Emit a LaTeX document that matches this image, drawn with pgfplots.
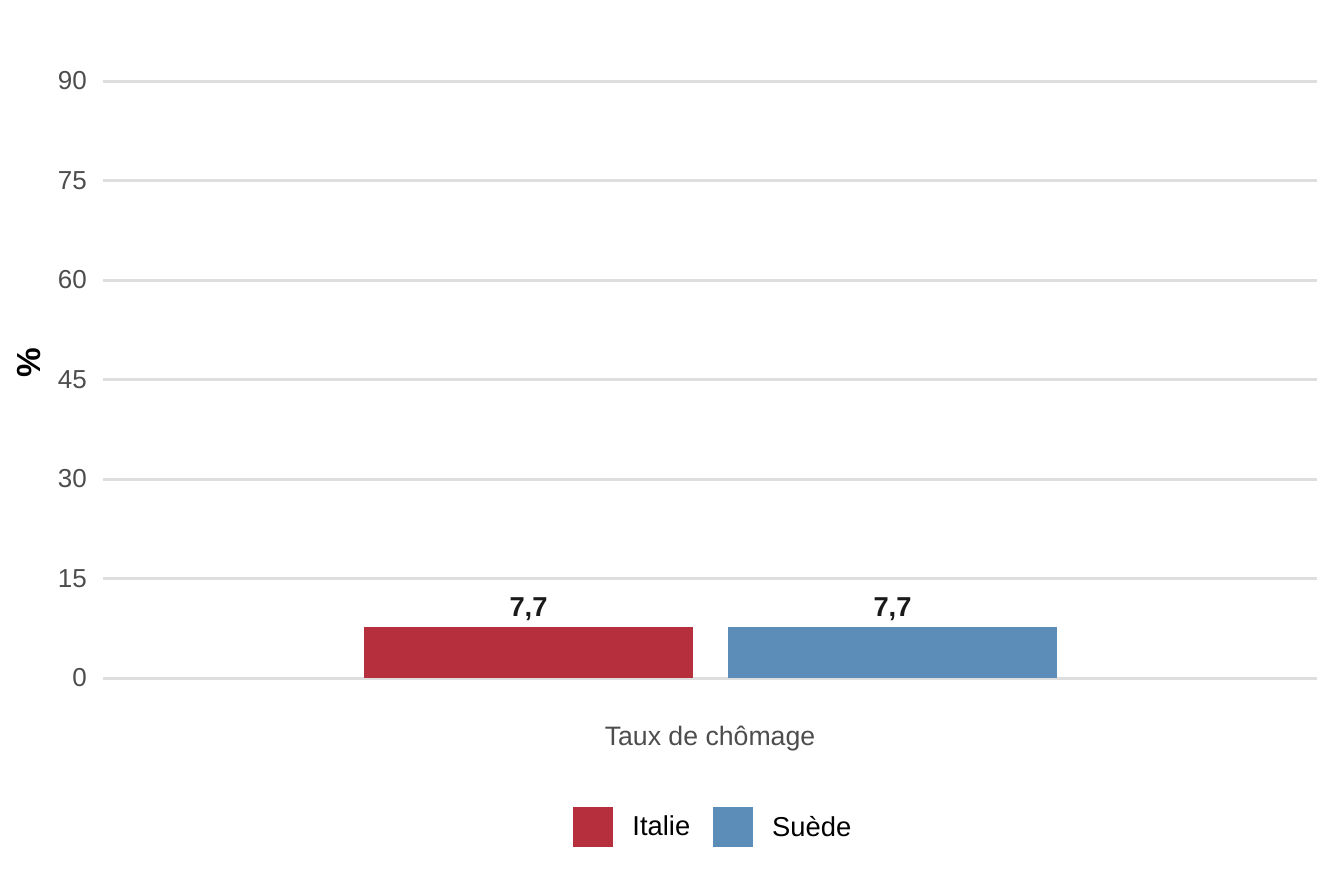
\documentclass[border=0pt]{standalone}
\usepackage{pgfplots}
\pgfplotsset{compat=1.18}
\usepackage{fontspec}
\setmainfont{Liberation Sans}
\definecolor{itred}{HTML}{B5303C}
\definecolor{seblue}{HTML}{5B8DB8}
\definecolor{gridc}{HTML}{DEDEDE}
\definecolor{tickc}{HTML}{4D4D4D}
\definecolor{lblc}{HTML}{1A1A1A}
\pgfplotsset{
  sqlegend/.style={legend image code/.code={%
    \fill[##1,draw=none] (0pt,-15pt) rectangle (30pt,15pt);
    \path (-16.9pt,0pt) (44.6pt,0pt);}},
  barlbl/.style={
    nodes near coords={\pgfmathprintnumber[fixed,fixed zerofill,precision=1,use comma,assume math mode=true]{\pgfplotspointmeta}},
    every node near coord/.append style={font=\bfseries\fontsize{20.5pt}{24pt}\selectfont, text=lblc, anchor=base, inner sep=0pt, yshift=7.5pt}}
}
\begin{document}
\begin{tikzpicture}
\path[use as bounding box] (-77.25pt,-153.75pt) rectangle (930.75pt,508.5pt);
\begin{axis}[
  at={(0pt,0pt)}, anchor=south west,
  scale only axis, width=910.5pt, height=470.1pt,
  xmin=103, xmax=1317, ymin=0, ymax=94.5,
  clip=false,
  axis line style={draw=none}, major tick length=0pt,
  ytick={0,15,30,45,60,75,90},
  ymajorgrids, grid style={gridc, line width=2.25pt},
  xtick={710}, xticklabels={Taux de chômage},
  yticklabel style={font=\fontsize{19.5pt}{23pt}\selectfont, text=tickc, anchor=east, inner sep=0pt, xshift=-12pt},
  xticklabel style={font=\fontsize{20pt}{24pt}\selectfont, text=tickc, anchor=base, inner sep=0pt, yshift=-50.25pt},
  /pgf/number format/assume math mode=true,
  ylabel={\%},
  ylabel style={font=\bfseries\fontsize{25pt}{30pt}\selectfont, at={(axis description cs:0,0.5)}, anchor=center, yshift=55.5pt, xshift=1.5pt},
  legend columns=2,
  legend style={at={(0.3686,-0.2377)}, anchor=west, draw=none, fill=none, inner sep=0pt, outer sep=0pt,
    row sep=0pt, column sep=0pt, font=\fontsize{20.5pt}{24pt}\selectfont, text=black,
    nodes={inner sep=0pt, anchor=west}},
]
\addplot[ybar, fill=itred, draw=none, bar width=329, bar shift=0pt, sqlegend, barlbl] coordinates {(528.5,7.7)};
\addlegendentry{Italie}
\addplot[ybar, fill=seblue, draw=none, bar width=329, bar shift=0pt, sqlegend, barlbl] coordinates {(892.5,7.7)};
\addlegendentry{Suède}
\end{axis}
\end{tikzpicture}
\end{document}
